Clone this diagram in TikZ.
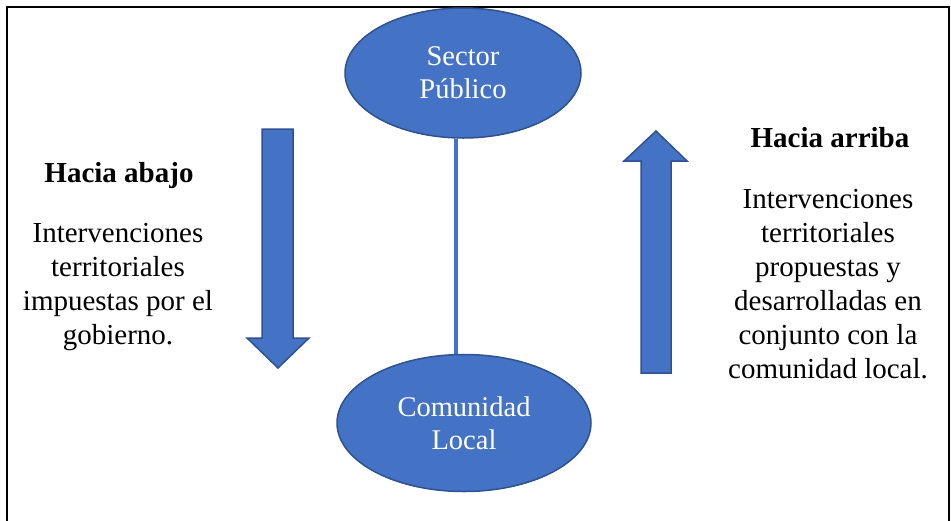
\documentclass[tikz,border=0pt]{standalone}
\usepackage{fontspec}
\setmainfont{Liberation Serif}
\usetikzlibrary{shapes.geometric,backgrounds}
\definecolor{blueF}{HTML}{4472C4}
\definecolor{blueD}{HTML}{2F528F}
\begin{document}
\begin{tikzpicture}[x=1pt,y=-1pt,
  ell/.style={ellipse,fill=blueF,draw=blueD,line width=1.5pt,inner sep=0pt,
    text=white,align=center,font=\fontsize{28.5}{33}\selectfont},
  bigarrow/.style={fill=blueF,draw=blueD,line width=1.5pt,line join=miter},
  head/.style={inner sep=0pt,anchor=base,font=\fontsize{29}{34}\selectfont\bfseries},
  body/.style={inner sep=0pt,anchor=north,align=center,font=\fontsize{29}{34}\selectfont},
  frame/.style={line width=2.5pt,line cap=rect}]
\useasboundingbox (0,0) rectangle (951,520);
\draw[frame] (7,521) -- (7,7) -- (949,7) -- (949,521);
\node[ell,minimum width=236pt,minimum height=130pt] (sp) at (463,73) {Sector\\Público};
\node[ell,minimum width=254pt,minimum height=137pt] (cl) at (464,423) {Comunidad\\Local};
\begin{pgfonlayer}{background}
\draw[blueF,line width=4pt] ([xshift=-7pt]sp.south) -- ([xshift=-7pt]sp.south |- cl.north);
\end{pgfonlayer}
\filldraw[bigarrow] (262,129) -- (293,129) -- (293,338) -- (309,338) -- (278,368) -- (247,338) -- (262,338) -- cycle;
\filldraw[bigarrow] (641,373) -- (671,373) -- (671,161) -- (687,161) -- (656,131) -- (624,161) -- (641,161) -- cycle;
\node[head] (hab) at (119,182) {Hacia abajo};
\node[body] (tab) at (118,218.2) {\strut Intervenciones\\territoriales\\impuestas por el\\gobierno.};
\node[head] (har) at (830,147) {Hacia arriba};
\node[body] (tar) at (828,184.2) {\strut Intervenciones\\territoriales\\propuestas y\\desarrolladas en\\conjunto con la\\comunidad local.};
\end{tikzpicture}
\end{document}
